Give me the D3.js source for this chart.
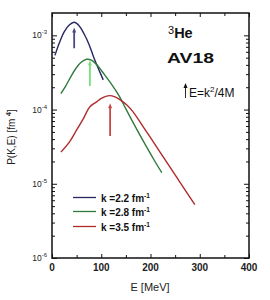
<!DOCTYPE html>
<html><head><meta charset="utf-8">
<script src="https://cdn.jsdelivr.net/npm/d3@7"></script>
<style>body{margin:0;background:#fff}svg{display:block}text{font-family:"Liberation Sans",Arial,sans-serif}</style>
</head><body>
<svg id="c" width="270" height="300"></svg>
<script>
// ---- data ----
const seriesNames = ["k=2.2", "k=2.8", "k=3.5"];
const legendLabels = ["k =2.2 fm", "k =2.8 fm", "k =3.5 fm"];
const blueE = [6, 15, 25, 35, 45, 55, 65, 75, 85, 95, 104];
const blueP = [5.37e-4, 7.94e-4, 1.12e-3, 1.38e-3, 1.50e-3, 1.35e-3, 1.05e-3, 7.6e-4, 5.0e-4, 3.47e-4, 2.51e-4];
const greenE = [18, 28, 38, 48, 58, 70, 80, 90, 100, 110, 120, 135, 150, 170, 190, 210, 223];
const greenP = [1.64e-4, 2.09e-4, 2.75e-4, 3.55e-4, 4.27e-4, 4.76e-4, 4.62e-4, 4.07e-4, 3.39e-4, 2.75e-4, 2.24e-4, 1.58e-4, 1.02e-4, 5.75e-5, 3.31e-5, 1.95e-5, 1.41e-5];
const redE = [18, 36, 50, 64, 77, 90, 100, 116, 128, 140, 152, 165, 182, 199, 219, 250, 290];
const redP = [2.67e-5, 3.70e-5, 5.31e-5, 7.62e-5, 1.09e-4, 1.26e-4, 1.41e-4, 1.54e-4, 1.48e-4, 1.33e-4, 1.15e-4, 9.25e-5, 6.31e-5, 4.28e-5, 2.69e-5, 1.32e-5, 5.22e-6];
const arrowE = [45, 77, 118];
const arrowTopP = [1.28e-3, 4.6e-4, 1.22e-4];
const arrowBaseP = [6.7e-4, 2.07e-4, 4.4e-5];
const xMajor = [0, 100, 200, 300, 400];
const xMinor = [50, 150, 250, 350];
const yMajorExp = [-6, -5, -4, -3];

// ---- layout ----
const svg = d3.select("#c");
const L = 52, R = 249, T = 13, B = 258;
const x = d3.scaleLinear().domain([0, 400]).range([L, R]);
const y = d3.scaleLog().domain([1e-6, 2e-3]).range([B, T]);
const lineCol = ["#262662", "#2f7b3c", "#b02a2e"];
const arrowCol = ["#4a4a82", "#78e078", "#c84848"];

const yMajor = yMajorExp.map(e => Math.pow(10, e));
const yMinor = [];
yMajorExp.forEach(e => { for (let m = 2; m <= 9; m++) { const v = m * Math.pow(10, e); if (v < 2e-3) yMinor.push(v); } });

function ax(gen, tr, vals, size) {
  svg.append("g").attr("transform", tr)
    .call(gen.tickValues(vals).tickSize(size).tickFormat(""))
    .call(g => { g.select(".domain").remove(); g.selectAll("line").attr("stroke", "#111").attr("stroke-width", 1); });
}
ax(d3.axisBottom(x), `translate(0,${B})`, xMajor, -4);
ax(d3.axisBottom(x), `translate(0,${B})`, xMinor, -3);
ax(d3.axisTop(x), `translate(0,${T})`, xMajor, -4);
ax(d3.axisTop(x), `translate(0,${T})`, xMinor, -3);
ax(d3.axisLeft(y), `translate(${L},0)`, yMajor, -5);
ax(d3.axisLeft(y), `translate(${L},0)`, yMinor, -3);
ax(d3.axisRight(y), `translate(${R},0)`, yMajor, -5);
ax(d3.axisRight(y), `translate(${R},0)`, yMinor, -3);

svg.append("rect").attr("x", L).attr("y", T).attr("width", R - L).attr("height", B - T)
  .attr("fill", "none").attr("stroke", "#111").attr("stroke-width", 1.5);

// tick labels
xMajor.forEach(v => svg.append("text").attr("x", x(v)).attr("y", 271).attr("text-anchor", "middle")
  .attr("font-size", 10).attr("font-weight", "bold").attr("fill", "#222").text(v));
yMajorExp.forEach(e => {
  const t = svg.append("text").attr("x", 47).attr("y", y(Math.pow(10, e)) + 3).attr("text-anchor", "end")
    .attr("font-size", 8.5).attr("fill", "#222");
  t.append("tspan").text("10");
  t.append("tspan").attr("dy", -4).attr("font-size", 6).text("-" + (-e));
});

// axis titles
svg.append("text").attr("x", 150).attr("y", 291).attr("text-anchor", "middle").attr("font-size", 11).attr("fill", "#222").text("E [MeV]");
const yl = svg.append("text").attr("transform", "translate(15,137) rotate(-90)").attr("text-anchor", "middle")
  .attr("font-size", 10).attr("fill", "#222");
yl.append("tspan").text("P(K,E) [fm ");
yl.append("tspan").attr("dy", -4).attr("font-size", 7).attr("font-weight", "bold").text("4");
yl.append("tspan").attr("dy", 4).text("]");

// curves
const series = [[blueE, blueP], [greenE, greenP], [redE, redP]];
const line = d3.line().x(d => x(d[0])).y(d => y(d[1])).curve(d3.curveCatmullRom);
series.forEach((s, i) => {
  const pts = s[0].map((e, j) => [e, s[1][j]]);
  svg.append("path").attr("d", line(pts)).attr("fill", "none").attr("stroke", lineCol[i]).attr("stroke-width", 1.4);
});

// arrows
function arrow(x0, yTop, yBase, col, w) {
  svg.append("line").attr("x1", x0).attr("x2", x0).attr("y1", yTop + 3).attr("y2", yBase)
    .attr("stroke", col).attr("stroke-width", w);
  svg.append("path").attr("d", `M${x0},${yTop} L${x0 - 2},${yTop + 5} L${x0 + 2},${yTop + 5} Z`).attr("fill", col);
}
arrowE.forEach((e, i) => arrow(x(e), y(arrowTopP[i]), y(arrowBaseP[i]), arrowCol[i], 1.8));

// annotations
const he = svg.append("text").attr("x", 168).attr("y", 38).attr("font-size", 14.5).attr("font-weight", "bold").attr("fill", "#111");
he.append("tspan").attr("font-size", 11).attr("dy", -4).attr("font-weight", "normal").text("3");
he.append("tspan").attr("dy", 4).text("He");
svg.append("text").attr("x", 167).attr("y", 63).attr("font-size", 15).attr("font-weight", "bold").attr("fill", "#111")
  .attr("textLength", 47).attr("lengthAdjust", "spacingAndGlyphs").text("AV18");
arrow(185.5, 83, 98, "#111", 0.9);
const ek = svg.append("text").attr("x", 189).attr("y", 97).attr("font-size", 12).attr("fill", "#111");
ek.append("tspan").text("E=k");
ek.append("tspan").attr("dy", -5).attr("font-size", 8).text("2");
ek.append("tspan").attr("dy", 5).text("/4M");

// legend
const legY = [197.5, 211.5, 226.5];
legendLabels.forEach((lab, i) => {
  svg.append("line").attr("x1", 73).attr("x2", 96).attr("y1", legY[i]).attr("y2", legY[i])
    .attr("stroke", lineCol[i]).attr("stroke-width", 1.3);
  const t = svg.append("text").attr("x", 101).attr("y", legY[i] + 4).attr("font-size", 10).attr("font-weight", "bold").attr("fill", "#111");
  t.append("tspan").text(lab);
  t.append("tspan").attr("dy", -4).attr("font-size", 6.5).text("-1");
});
</script>
</body></html>
